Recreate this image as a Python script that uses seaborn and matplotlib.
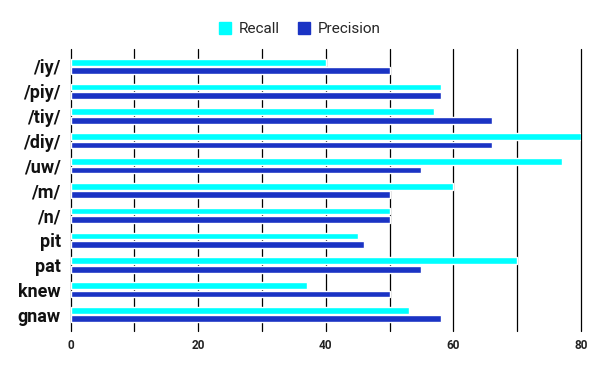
import pandas as pd
import numpy as np
import matplotlib
matplotlib.use("Agg")
import matplotlib.pyplot as plt
import seaborn as sns
from matplotlib.patches import Patch

# data
sounds = ["/iy/", "/piy/", "/tiy/", "/diy/", "/uw/", "/m/", "/n/", "pit", "pat", "knew", "gnaw"]
recall = [40, 58, 57, 80, 77, 60, 50, 45, 70, 37, 53]
precision = [50, 58, 66, 66, 55, 50, 50, 46, 55, 50, 58]
x_ticks = [0, 10, 20, 30, 40, 50, 60, 70, 80]

colors = {"Recall": "#00ffff", "Precision": "#1a33c4"}

df = pd.DataFrame({
    "sound": sounds * 2,
    "value": recall + precision,
    "metric": ["Recall"] * len(sounds) + ["Precision"] * len(sounds),
})

sns.set_style("white")
plt.rcParams["font.family"] = ["Roboto", "DejaVu Sans"]

fig = plt.figure(figsize=(6, 3.71), dpi=100)
ax = fig.add_axes([70.5 / 600, 40 / 371, 510.5 / 600, 282 / 371])

sns.barplot(data=df, y="sound", x="value", hue="metric", palette=colors,
            orient="h", width=0.68, gap=0.2, saturation=1, legend=False,
            zorder=2, ax=ax)

ax.set_xlim(0, 80)
ax.set_ylim(10.66, -0.7)
ax.set_xticks(x_ticks)
ax.set_xticklabels([str(t) if t % 20 == 0 else "" for t in x_ticks],
                   fontsize=8.5, fontweight="bold", color="#222222")
ax.tick_params(axis="both", length=0)
ax.tick_params(axis="x", pad=6)
ax.tick_params(axis="y", pad=7)
for lab in ax.get_yticklabels():
    lab.set_fontsize(13)
    lab.set_fontweight("bold")
    lab.set_color("#111111")
ax.set_xlabel("")
ax.set_ylabel("")
for s in ax.spines.values():
    s.set_visible(False)
for t in x_ticks:
    ax.axvline(t, color="black", lw=0.9, zorder=0, clip_on=False)

handles = [Patch(color=colors[k], label=k) for k in ["Recall", "Precision"]]
fig.legend(handles=handles, loc="center", bbox_to_anchor=(0.5, 0.922), ncol=2,
           frameon=False, fontsize=11, handlelength=0.8, handleheight=0.8,
           handletextpad=0.5, columnspacing=1.2)

fig.savefig("out.png", dpi=100)
